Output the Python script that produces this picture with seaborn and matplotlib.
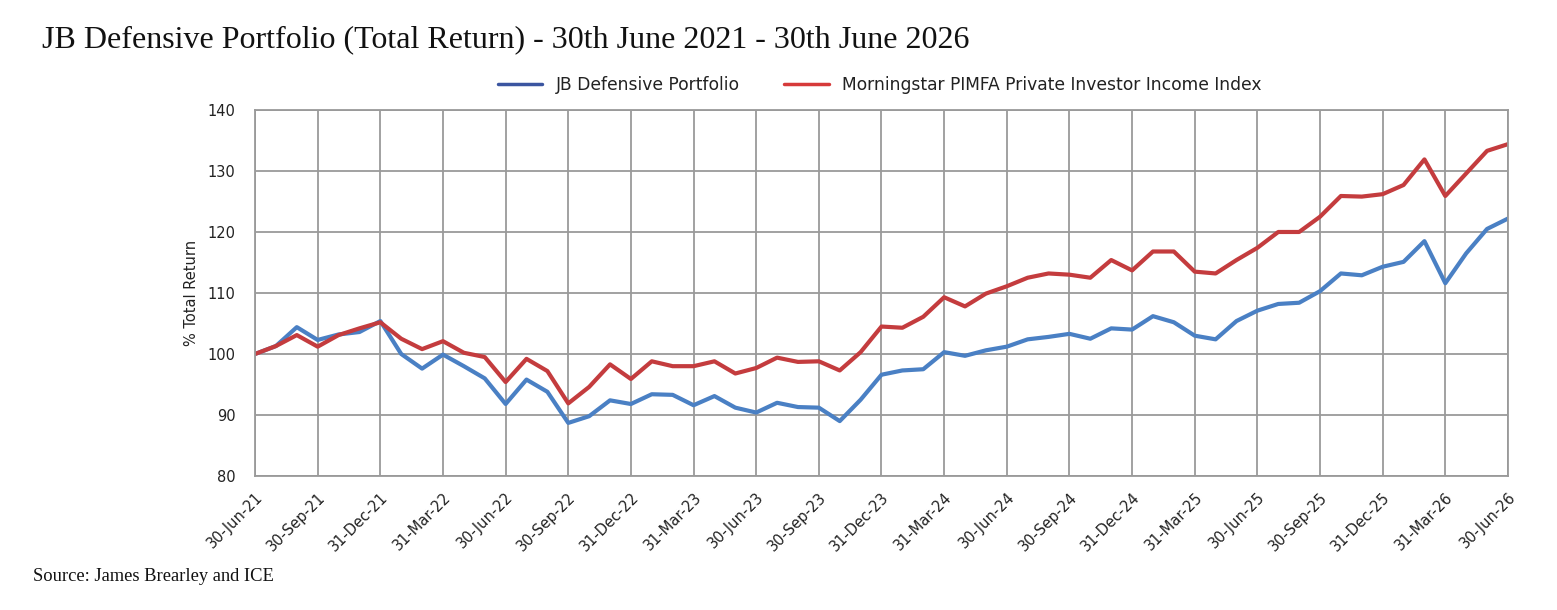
import numpy as np
import matplotlib
matplotlib.use("Agg")
import matplotlib.pyplot as plt
import pandas as pd
import seaborn as sns

# monthly index values, 30-Jun-21 .. 30-Jun-26
jb_defensive = [
    100.0, 101.3, 104.4, 102.3, 103.2, 103.6, 105.4,
    100.0, 97.6, 99.9, 98.0, 96.0, 91.8, 95.8, 93.8, 88.7, 89.8, 92.4, 91.8,
    93.4, 93.3, 91.6, 93.1, 91.2, 90.4, 92.0, 91.3, 91.2, 89.0, 92.5, 96.6,
    97.3, 97.5, 100.3, 99.7, 100.6, 101.2, 102.4, 102.8, 103.3, 102.5, 104.2, 104.0,
    106.2, 105.2, 103.0, 102.4, 105.4, 107.1, 108.2, 108.4, 110.3, 113.2, 112.9, 114.3,
    115.1, 118.5, 111.6, 116.5, 120.5, 122.2,
]
pimfa_income = [
    100.0, 101.3, 103.1, 101.2, 103.1, 104.2, 105.2,
    102.5, 100.8, 102.1, 100.2, 99.5, 95.4, 99.2, 97.2, 91.9, 94.6, 98.3, 95.9,
    98.8, 98.0, 98.0, 98.8, 96.8, 97.7, 99.4, 98.7, 98.8, 97.3, 100.3, 104.5,
    104.3, 106.1, 109.3, 107.8, 109.9, 111.1, 112.5, 113.2, 113.0, 112.5, 115.4, 113.7,
    116.8, 116.8, 113.5, 113.2, 115.4, 117.4, 120.0, 120.0, 122.5, 125.9, 125.8, 126.2,
    127.7, 131.9, 125.9, 129.6, 133.3, 134.4,
]
tick_labels = [
    "30-Jun-21", "30-Sep-21", "31-Dec-21", "31-Mar-22", "30-Jun-22", "30-Sep-22",
    "31-Dec-22", "31-Mar-23", "30-Jun-23", "30-Sep-23", "31-Dec-23", "31-Mar-24",
    "30-Jun-24", "30-Sep-24", "31-Dec-24", "31-Mar-25", "30-Jun-25", "30-Sep-25",
    "31-Dec-25", "31-Mar-26", "30-Jun-26",
]
series_names = ["JB Defensive Portfolio", "Morningstar PIMFA Private Investor Income Index"]

months = np.arange(len(jb_defensive))
df = pd.DataFrame({
    "month": np.concatenate([months, months]),
    "value": jb_defensive + pimfa_income,
    "series": [series_names[0]] * len(months) + [series_names[1]] * len(months),
})

sns.set_theme(style="white")
plt.rcParams["font.family"] = ["DejaVu Sans"]

fig = plt.figure(figsize=(15.57, 6.10), dpi=100)
ax = fig.add_axes([0.1638, 0.2197, 0.8047, 0.6000])

palette = {series_names[0]: "#4a80c4", series_names[1]: "#c43c3e"}
sns.lineplot(data=df, x="month", y="value", hue="series", palette=palette,
             linewidth=3, ax=ax, legend=False)

ax.set_xlim(0, len(months) - 1)
ax.set_ylim(80, 140)
ax.set_xticks(np.arange(0, len(months), 3))
ax.set_xticklabels(tick_labels, rotation=45, ha="right", rotation_mode="anchor",
                   fontsize=10.5, color="#222222")
ax.set_yticks(np.arange(80, 141, 10))
ax.tick_params(axis="y", labelsize=10.5, labelcolor="#222222", pad=8)
ax.tick_params(axis="x", pad=4)
ax.grid(True, color="#9a9a9a", linewidth=1.3)
ax.set_axisbelow(True)
for s in ax.spines.values():
    s.set_color("#9a9a9a")
    s.set_linewidth(1.3)
ax.set_xlabel("")
ax.set_ylabel("% Total Return", fontsize=10.5, color="#222222", labelpad=6)

# legend
handles = [plt.Line2D([], [], color="#3b55a0", linewidth=2.5),
           plt.Line2D([], [], color="#d63a3a", linewidth=2.5)]
fig.legend(handles, series_names, loc="center", bbox_to_anchor=(0.565, 0.86),
           ncol=2, frameon=False, fontsize=12.3, handlelength=2.6, columnspacing=2.6,
           labelcolor="#222222")

fig.text(0.027, 0.935, "JB Defensive Portfolio (Total Return) - 30th June 2021 - 30th June 2026",
         fontsize=23, family=["Liberation Serif"], color="#111111", va="center")
fig.text(0.021, 0.055, "Source: James Brearley and ICE",
         fontsize=13.3, family=["Liberation Serif"], color="#111111", va="center")

fig.savefig("out.png", dpi=100)
